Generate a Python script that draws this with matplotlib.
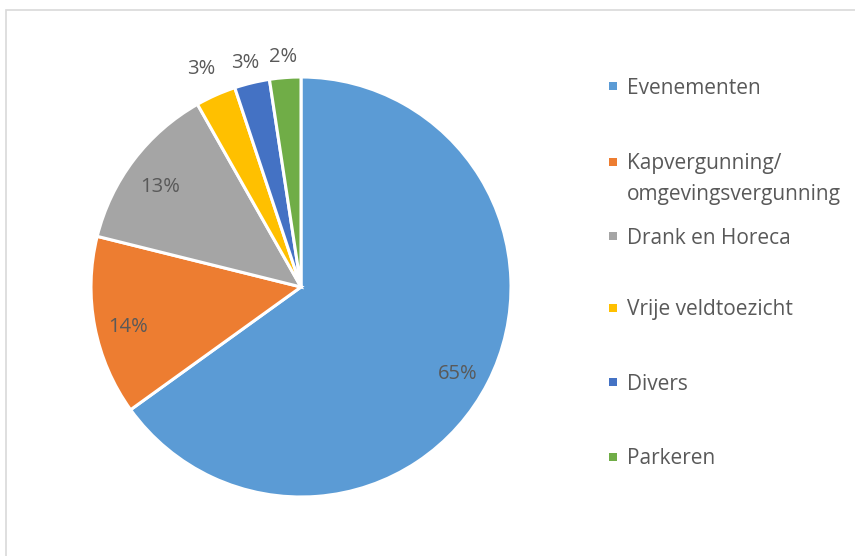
import numpy as np
import matplotlib
matplotlib.use('Agg')
import matplotlib.pyplot as plt
from matplotlib.patches import Rectangle

labels = ['Evenementen', 'Kapvergunning/\nomgevingsvergunning', 'Drank en Horeca',
          'Vrije veldtoezicht', 'Divers', 'Parkeren']
values = [65.0, 13.8, 12.9, 3.1, 2.7, 2.4]
colors = ['#5B9BD5', '#ED7D31', '#A5A5A5', '#FFC000', '#4472C4', '#70AD47']

plt.rcParams['font.family'] = ['Open Sans', 'DejaVu Sans']
W, H = 855, 556
txtcol = '#595959'

fig = plt.figure(figsize=(W / 100, H / 100), dpi=100)

# outer chart border (only left/top visible in the crop)
fig.patches.append(Rectangle((6 / W, -0.5), 2, 1.5 - 10 / H, transform=fig.transFigure,
                             fill=False, edgecolor='#D9D9D9', linewidth=1.2))

cx, cy, r = 301, 287, 210
ax = fig.add_axes([(cx - r) / W, 1 - (cy + r) / H, 2 * r / W, 2 * r / H])
wedges, _ = ax.pie(values, colors=colors, startangle=90, counterclock=False, radius=1,
                   wedgeprops=dict(edgecolor='white', linewidth=2.2))
ax.set_xlim(-1, 1)
ax.set_ylim(-1, 1)
ax.axis('off')

total = sum(values)
for i, (w, v) in enumerate(zip(wedges, values)):
    ang = np.deg2rad((w.theta1 + w.theta2) / 2)
    d = 0.84 if v > 8 else (1.17 if i == 3 else 1.13)
    ax.text(d * np.cos(ang), d * np.sin(ang) - 0.03, '%d%%' % round(100 * v / total),
            ha='center', va='center', fontsize=14.5, color=txtcol)

# legend drawn by hand, Excel style
ys = [86, 177, 236, 308, 382, 457]
for lab, c, y in zip(labels, colors, ys):
    sy = y - 15 if '\n' in lab else y
    fig.patches.append(Rectangle((609 / W, 1 - (sy + 4) / H), 8 / W, 8 / H,
                                 transform=fig.transFigure, facecolor=c, edgecolor='none'))
    fig.text(627 / W, 1 - (y + 2) / H, lab, ha='left', va='center', fontsize=15,
             color=txtcol, linespacing=1.6)

fig.savefig('out.png', dpi=100)
